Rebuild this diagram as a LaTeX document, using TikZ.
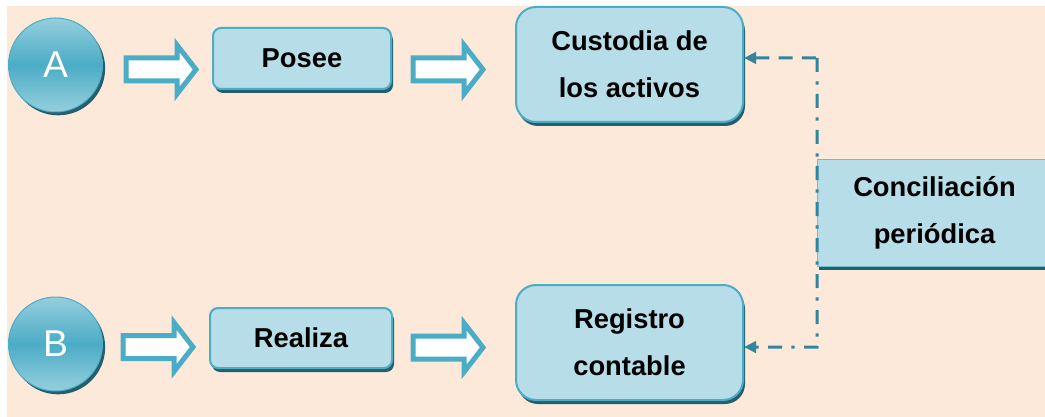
\documentclass[tikz,border=0pt]{standalone}
\usepackage{fontspec}
\setmainfont{Liberation Sans}
\usetikzlibrary{shadows,arrows.meta}
\definecolor{bgc}{HTML}{FDE9DA}
\definecolor{boxfill}{HTML}{B6DDE8}
\definecolor{boxborder}{HTML}{4BACC6}
\definecolor{shadowc}{HTML}{245F6D}
\definecolor{dashc}{HTML}{31859C}
\definecolor{circlight}{HTML}{95CFDD}
\definecolor{circmid}{HTML}{4BACC6}
\tikzset{
  box/.style={draw=boxborder, line width=1.5pt, fill=boxfill, rounded corners=#1,
    inner sep=0pt, align=center,
    font=\bfseries\fontsize{20.5}{35}\selectfont,
    general shadow={fill=shadowc, shadow xshift=1.5pt, shadow yshift=-3pt}},
  ball/.style={circle, minimum size=70.5pt, inner sep=0pt, draw=boxborder, line width=0.75pt,
    top color=circlight, bottom color=circlight, middle color=circmid,
    text=white, font=\fontsize{28}{28}\selectfont,
    general shadow={fill=shadowc, shadow xshift=2pt, shadow yshift=-2.5pt}},
  barrowline/.style={draw=boxborder, fill=white, line width=3.75pt, line join=miter},
  barrow/.pic={\draw[barrowline] (0,-11.5) -- (51,-11.5) -- (51,-24.5) -- (70,0) -- (51,24.5) -- (51,11.5) -- (0,11.5) -- cycle;},
  link/.style={draw=dashc, line width=2.25pt},
  linkdash/.style={link, dash pattern=on 10.5pt off 7pt},
  linkdashdot/.style={link, dash pattern=on 10.5pt off 7pt on 2.5pt off 7pt},
  tip/.tip={Triangle[length=9pt,width=8.5pt]}
}
\begin{document}
\begin{tikzpicture}[x=0.75pt,y=-0.75pt]
\useasboundingbox (0,0) rectangle (1045,417);
\fill[bgc] (7,6) rectangle (1045,417);

% circles
\node[ball] (A) at (55.5,65) {A};
\node[ball] (B) at (55.5,344) {B};

% boxes
\node[box=6pt, minimum width=133.5pt, minimum height=45.75pt] (posee) at (302,58.5) {Posee};
\node[box=15pt, minimum width=170.25pt, minimum height=86.25pt] (cust) at (629.5,64.5) {Custodia de\\los activos};
\node[box=6pt, minimum width=136.5pt, minimum height=45pt] (realiza) at (301,338) {Realiza};
\node[box=15pt, minimum width=170.25pt, minimum height=86.25pt] (reg) at (629.5,342.5) {Registro\\contable};
\node[box=0pt, draw=boxborder!80, line width=0.75pt, minimum width=176.25pt, minimum height=79.5pt] (conc) at (934.5,213) {Conciliación\\periódica};

% block arrows
\pic at (126,69.5) {barrow};
\pic at (413,69.5) {barrow};
\pic at (123,347) {barrow};
\pic at (413,347.5) {barrow};

% dashed link
\coordinate (jt) at (817,58);
\coordinate (jb) at (817,347);
\draw[linkdash, tip-] ([yshift=4.9pt]cust.east) -- (jt);
\draw[linkdashdot, -tip] (jt) -- (jb) -- ([yshift=-3.4pt]reg.east);
\end{tikzpicture}
\end{document}
